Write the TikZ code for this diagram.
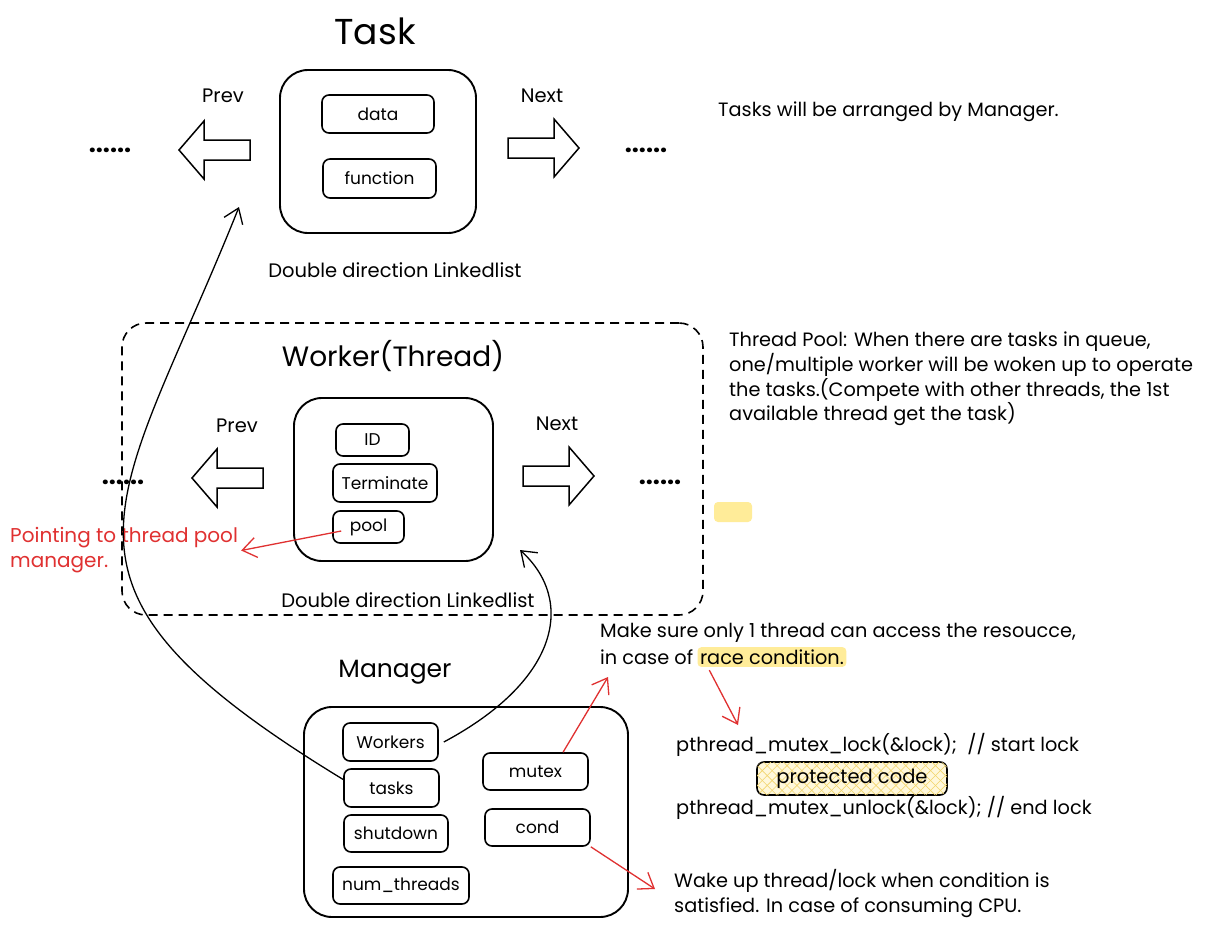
\documentclass[tikz,border=0pt]{standalone}
\usepackage{fontspec}
\setsansfont{Poppins}
\usetikzlibrary{arrows.meta,patterns.meta}
\definecolor{xred}{HTML}{E03131}
\definecolor{xyellow}{HTML}{FFEC99}
\definecolor{xhatch}{HTML}{F2D46A}

\tikzset{fat/.pic={\draw[line width=1.5pt,line join=miter] (0,-10)--(46,-10)--(46,-29)--(71,0)--(46,29)--(46,10)--(0,10)--cycle;}}

\begin{document}
\begin{tikzpicture}[x=1pt,y=-1pt,>={Straight Barb[length=14pt,width=20pt]},font=\sffamily\fontsize{19.5}{24}\selectfont,
  box/.style={draw,line width=1.6pt,rounded corners=7pt,inner sep=0pt,font=\sffamily\fontsize{17}{20}\selectfont},
  frame/.style={draw,line width=1.9pt,rounded corners=28pt,inner sep=0pt},
  title/.style={font=\sffamily\fontsize{#1}{#1}\selectfont},
  dots/.style={font=\sffamily\bfseries\fontsize{25}{25}\selectfont},
  note/.style={anchor=west,align=left,inner sep=0pt,font=\sffamily\fontsize{19.3}{24.7}\selectfont},
  link/.style={->,line width=1.3pt},
  hint/.style={->,xred,line width=1.3pt}]
\fill[white] (0,0) rectangle (1208,929);
\useasboundingbox (0,0) rectangle (1208,929);

\node[title=36] (tasktitle) at (375,31) {Task};
\node[frame,minimum width=196,minimum height=163] (taskframe) at (378,151.5) {};
\node[box,minimum width=112,minimum height=38] (data) at (378,114) {data};
\node[box,minimum width=113,minimum height=39] (function) at (379.5,178.5) {function};
\node (taskprev) at (223,96) {Prev};
\node (tasknext) at (542,96) {Next};
\pic[xscale=-1] at (250,150) {fat};
\pic at (508,148) {fat};
\node[dots] (taskdotsl) at (110,150) {......};
\node[dots] (taskdotsr) at (646,150) {......};
\node (tasklist) at (395,270) {Double direction Linkedlist};
\node[note] (tasknote) at (718,112) {Tasks will be arranged by Manager.};

\node[draw,dashed,dash pattern=on 9pt off 6pt,line width=1.6pt,rounded corners=24pt,minimum width=581,minimum height=292] (poolzone) at (412.5,469) {};
\node[title=28] (workertitle) at (393,356) {Worker(Thread)};
\node[frame,minimum width=199,minimum height=163] (workerframe) at (393.5,479.5) {};
\node[box,minimum width=73,minimum height=32] (ID) at (372.5,440) {ID};
\node[box,minimum width=104,minimum height=38] (Terminate) at (385,483) {Terminate};
\node[box,minimum width=71,minimum height=32] (pool) at (368.5,527) {pool};
\node (workerprev) at (237,426) {Prev};
\node (workernext) at (557,424) {Next};
\pic[xscale=-1] at (263,478) {fat};
\pic at (523,476) {fat};
\node[dots] (workerdotsl) at (123,482) {......};
\node[dots] (workerdotsr) at (660,482) {......};
\node (workerlist) at (408,600) {Double direction Linkedlist};
\node[fill=xyellow,rounded corners=4pt,minimum width=38,minimum height=20] (spot) at (733,512) {};
\node[note] (poolnote) at (729,379) {Thread Pool: When there are tasks in queue,\\one/multiple worker will be woken up to operate\\the tasks.(Compete with other threads, the 1st\\available thread get the task)};
\node[note,xred,font=\sffamily\fontsize{20}{25}\selectfont] (pointing) at (10,550.5) {Pointing to thread pool\\manager.};

\node[title=25] (managertitle) at (395,672) {Manager};
\node[frame,minimum width=324,minimum height=210] (managerframe) at (466,812) {};
\node[box,minimum width=95,minimum height=38] (Workers) at (390.5,742) {Workers};
\node[box,minimum width=95,minimum height=38] (tasks) at (391.5,788) {tasks};
\node[box,minimum width=104,minimum height=37] (shutdown) at (396,833.5) {shutdown};
\node[box,minimum width=136,minimum height=37] (numthreads) at (401,885.5) {num\_threads};
\node[box,minimum width=105,minimum height=37] (mutex) at (535.5,771.5) {mutex};
\node[box,minimum width=105,minimum height=37] (cond) at (537.5,827.5) {cond};

\node[note] (mutexnote) at (600,633) {Make sure only 1 thread can access the resoucce,};
\node[note] (incase) at (600,657) {in case of};
\node[note,anchor=base west,fill=xyellow,rounded corners=4pt,inner sep=2.5pt] (race) at ([xshift=4pt]incase.base east) {race condition.};
\node[note] (lockline) at (676,745) {pthread\_mutex\_lock(\&lock);~~// start lock};
\node[box,fill=xyellow!35,postaction={pattern={Lines[angle=45,distance=7pt,line width=.6pt]},pattern color=xhatch},postaction={pattern={Lines[angle=-45,distance=7pt,line width=.6pt]},pattern color=xhatch},minimum width=190,minimum height=33] (protected) at (852,778.5) {};
\node (protectedtext) at (852,778.5) {protected code};
\node[note] (unlockline) at (676,808) {pthread\_mutex\_unlock(\&lock); // end lock};
\node[note] (wakenote) at (674,893.5) {Wake up thread/lock when condition is\\satisfied. In case of consuming CPU.};

\coordinate (prevtip) at (239,207);
\coordinate (workertip) at (520,550);
\coordinate (mutextip) at (608,677);
\coordinate (locktip) at (738,725);
\coordinate (condtip) at (655,889);
\draw[link] (tasks.170) .. controls (19,582) and (116,514) .. (prevtip);
\draw[link] ([xshift=5pt]Workers.east) .. controls (560,680) and (575,600) .. (workertip);
\draw[hint] ([xshift=9pt,yshift=-4pt]pool.west) -- ([xshift=3pt]pointing.east);
\draw[hint] (mutex.35) -- (mutextip);
\draw[hint] ([xshift=12pt,yshift=-3pt]race.south west) -- (locktip);
\draw[hint] (cond.south east) -- (condtip);
\end{tikzpicture}
\end{document}
